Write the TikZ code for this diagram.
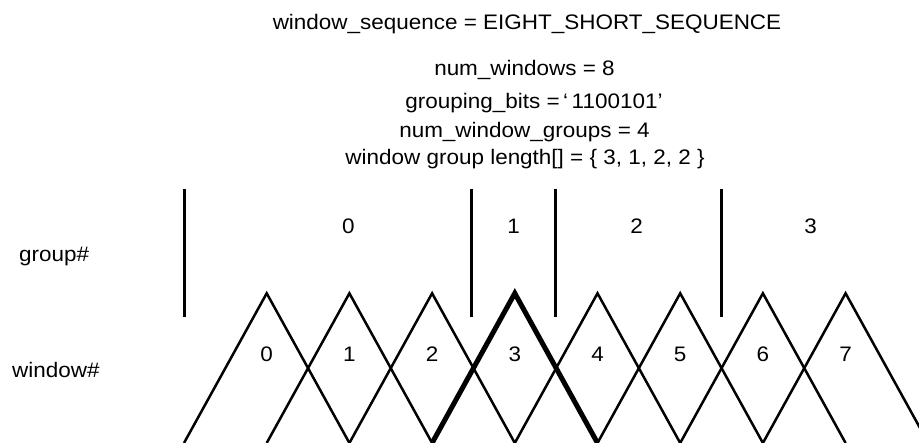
\documentclass[tikz,border=0pt]{standalone}
\usepackage{fontspec}
\setmainfont{Liberation Sans}[FakeStretch=1.07]
\begin{document}
\begin{tikzpicture}[x=1pt,y=-1pt,
  txt/.style={font=\fontsize{21}{25}\selectfont, inner sep=0pt, anchor=base},
  lbl/.style={txt, anchor=base west},
  bar/.style={line width=3pt},
  win/.style={line width=2.5pt, line join=miter},
  winthick/.style={line width=5pt, line join=miter}]
\useasboundingbox (0,0) rectangle (919,443);
\clip (0,0) rectangle (919,443);
\fill[white] (0,0) rectangle (919,443);
% header texts
\node[txt] (title) at (527,29.3) {window\_sequence = EIGHT\_SHORT\_SEQUENCE};
\node[txt] (nw) at (524.5,76) {num\_windows = 8};
\node[txt] (gb) at (534,109) {grouping\_bits =\,‘\,1100101’};
\node[txt] (nwg) at (524.5,138) {num\_window\_groups = 4};
\node[txt] (wgl) at (525,165) {window group length[] = \{ 3, 1, 2, 2 \}};
% row labels
\node[lbl] (grp) at (19,262) {group\#};
\node[lbl] (win) at (12,377.5) {window\#};
% group separators
\foreach \x [count=\i] in {184.5,471,555.7,721.3}
  \draw[bar] (\x,189) -- (\x,317);
% group labels
\node[txt] (g0) at (348.3,234) {0};
\node[txt] (g1) at (513.5,234) {1};
\node[txt] (g2) at (636.7,234) {2};
\node[txt] (g3) at (810.7,234) {3};
% windows
\foreach \i in {0,...,7} {
  \pgfmathsetmacro{\px}{266.7+82.7*\i}
  \coordinate (p\i) at (\px,293.3);
  \node[txt] (w\i) at (\px,362) {\i};
}
\foreach \i in {0,1,2,4,5,6,7} {
  \draw[win] ([xshift=-82.7pt]p\i |- 0,443) -- (p\i) -- ([xshift=82.7pt]p\i |- 0,443);
}
\draw[winthick] ([xshift=-82.7pt]p3 |- 0,443) -- (p3) -- ([xshift=82.7pt]p3 |- 0,443);
\end{tikzpicture}
\end{document}
